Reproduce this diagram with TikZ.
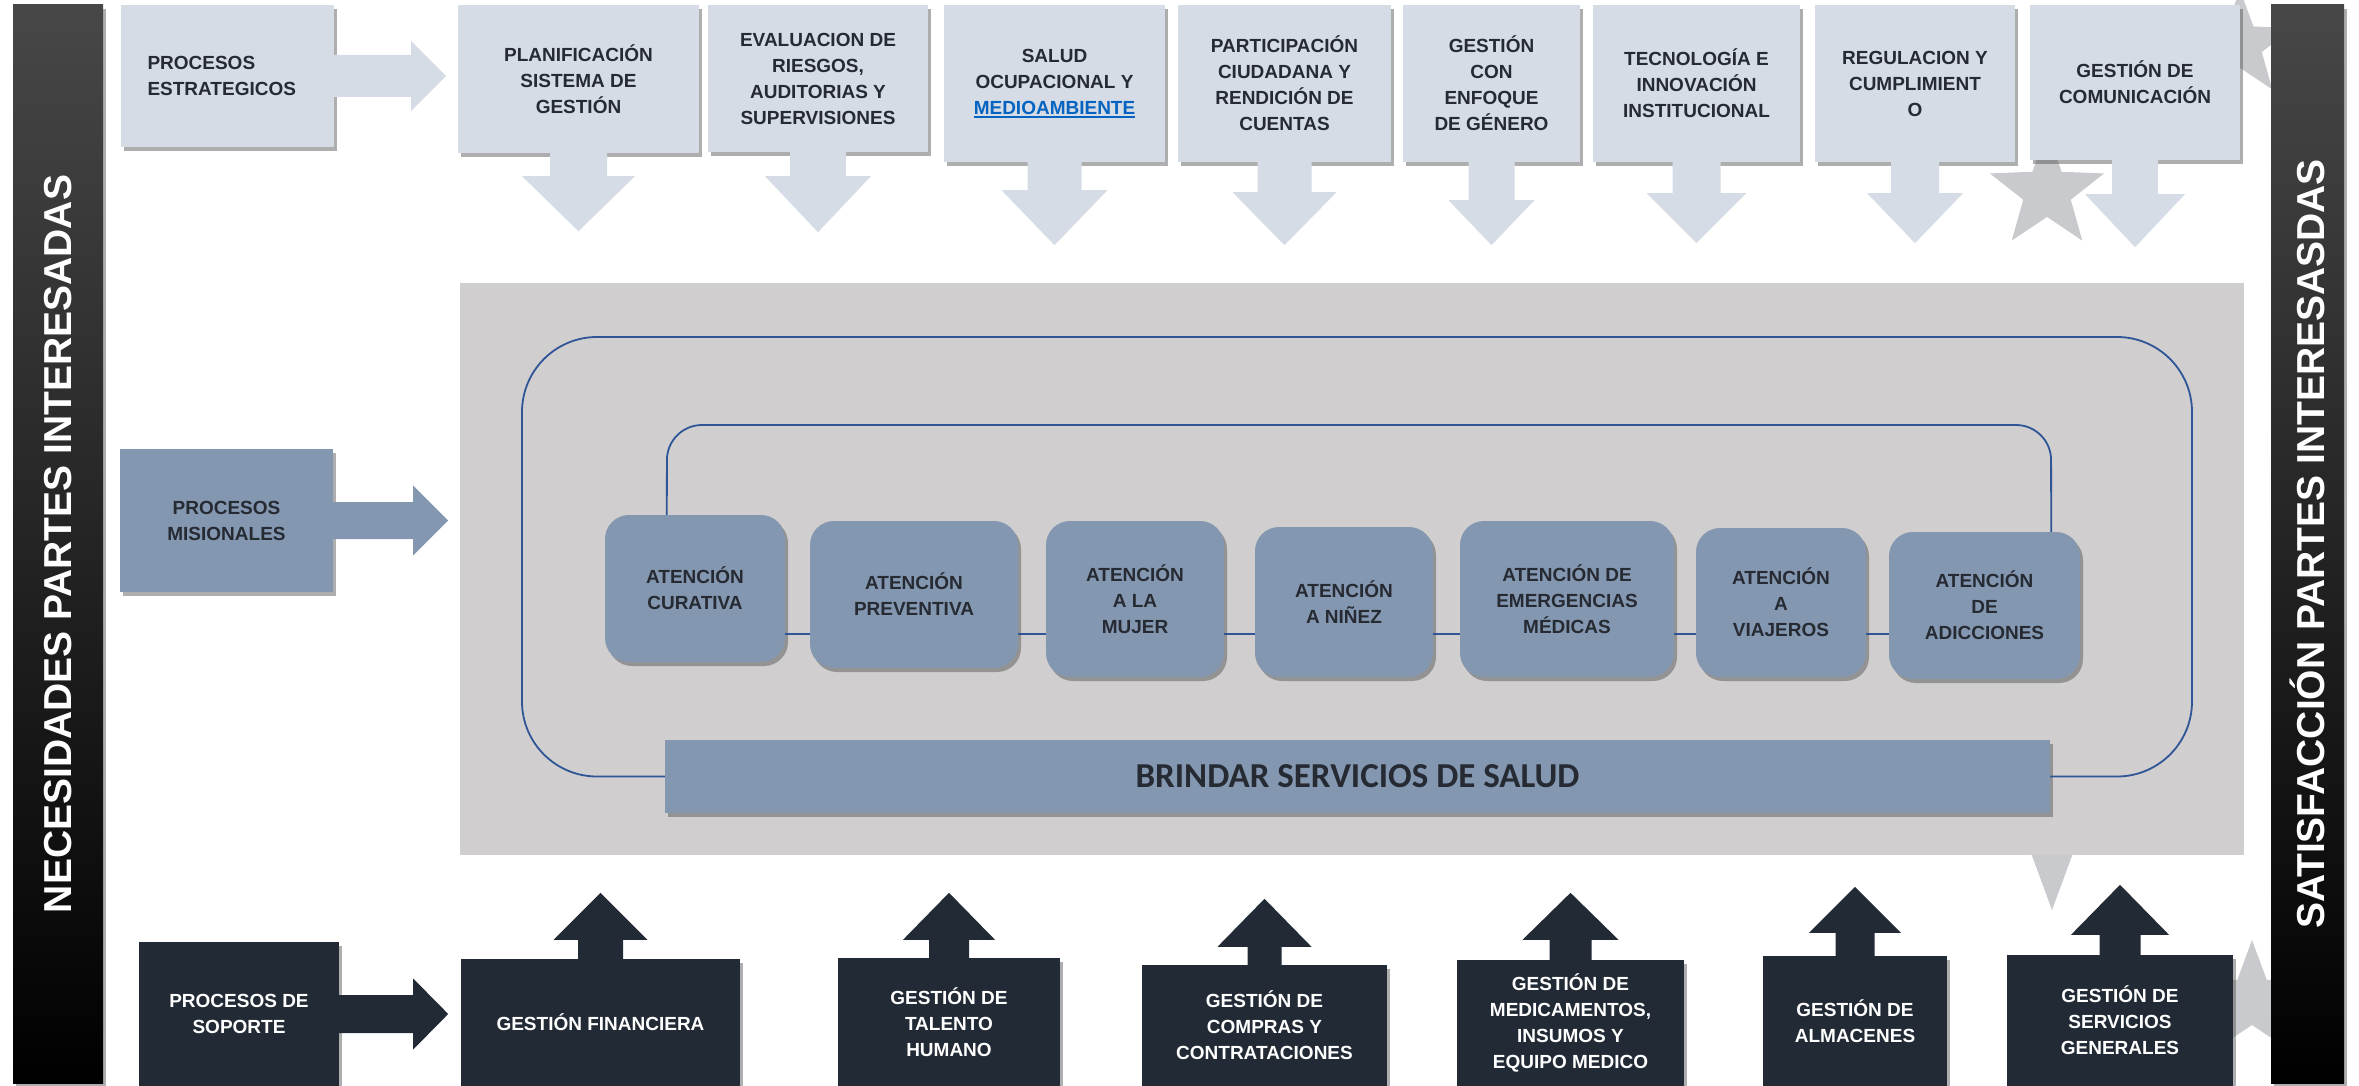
\documentclass[tikz,border=0pt]{standalone}
\usepackage{fontspec}
\setmainfont{Liberation Sans}
\newfontfamily\brfont{Carlito}
\usetikzlibrary{positioning,shapes.geometric,shadows,calc}

\definecolor{lightbox}{HTML}{D6DCE5}
\definecolor{misblue}{HTML}{8497B0}
\definecolor{darkbox}{HTML}{222A35}
\definecolor{grayarea}{HTML}{D0CECE}
\definecolor{loopblue}{HTML}{2F5597}
\definecolor{txtdark}{HTML}{262A33}
\definecolor{linkblue}{HTML}{0563C1}
\definecolor{stargray}{HTML}{C9CACE}

% underlined link text
\newcommand{\linkul}[1]{\setbox0\hbox{#1}\rlap{\rule[-3.5pt]{\wd0}{1.6pt}}\box0}

% block arrow: style, start, angle, shaft half, head half, shaft length, total length
\newcommand{\blockarrow}[7]{%
  \begin{scope}[shift={(#2)},rotate=#3]
    \fill[#1] (0,-#4) -- (#6,-#4) -- (#6,-#5) -- (#7,0) -- (#6,#5) -- (#6,#4) -- (0,#4) -- cycle;
  \end{scope}}

\tikzset{
  boxshadow/.style={drop shadow={shadow xshift=3pt,shadow yshift=-4pt,opacity=0.45,fill=black!70}},
  boxtext/.style={font=\bfseries\fontsize{19}{26}\selectfont,align=center,inner sep=0pt},
  strat/.style={boxtext,fill=lightbox,text=txtdark,boxshadow},
  misn/.style={boxtext,fill=misblue,text=txtdark,boxshadow},
  aten/.style={misn,rounded corners=24pt},
  supp/.style={boxtext,fill=darkbox,text=white,boxshadow},
  strarrow/.style={fill=lightbox},
  misarrow/.style={fill=misblue},
  suparrow/.style={fill=darkbox},
  sidebar/.style={top color=black!72,middle color=black,bottom color=black,inner sep=0pt,boxshadow},
  sidetext/.style={rotate=90,text=white,font=\bfseries\fontsize{39}{39}\selectfont},
  loopline/.style={draw=loopblue,line width=1.8pt},
  deco/.style={star,star points=5,star point ratio=2.4,fill=stargray,inner sep=0pt}
}

\begin{document}
\begin{tikzpicture}[x=1pt,y=-1pt]
\useasboundingbox (0,0) rectangle (2359,1086);

% background stars
\node[deco,minimum size=120pt] (st1) at (2047,192) {};
\node[deco,minimum size=110pt] (st2) at (2240,45) {};
\node[deco,minimum size=220pt,shape border rotate=180] (st3) at (2052,800) {};
\node[deco,minimum size=120pt] (st4) at (2252,1000) {};

% side bars
\node[sidebar,minimum width=90pt,minimum height=1078pt] (nec) at (58,544) {};
\node[sidetext] at (nec) {NECESIDADES PARTES INTERESADAS};
\node[sidebar,minimum width=73pt,minimum height=1078pt] (sat) at (2307.5,544) {};
\node[sidetext] at (sat) {SATISFACCIÓN PARTES INTERESASDAS};

% estrategicos
\node[strat,minimum width=213pt,minimum height=142pt,text width=160pt,align=left] (estr) at (227.5,76) {PROCESOS\\ESTRATEGICOS};
\node[strat,minimum width=241pt,minimum height=148pt] (plan) at (578.5,79) {PLANIFICACIÓN\\SISTEMA DE\\GESTIÓN};
\node[strat,minimum width=220pt,minimum height=147pt] (eval) at (818,78.5) {EVALUACION DE\\RIESGOS,\\AUDITORIAS Y\\SUPERVISIONES};
\node[strat,minimum width=221pt,minimum height=157pt] (salud) at (1054.5,83.5) {SALUD\\OCUPACIONAL Y\\\textcolor{linkblue}{\linkul{MEDIOAMBIENTE}}};
\node[strat,minimum width=213pt,minimum height=157pt] (part) at (1284.5,83.5) {PARTICIPACIÓN\\CIUDADANA Y\\RENDICIÓN DE\\CUENTAS};
\node[strat,minimum width=177pt,minimum height=157pt] (gen) at (1491.5,83.5) {GESTIÓN\\CON\\ENFOQUE\\DE GÉNERO};
\node[strat,minimum width=207pt,minimum height=157pt] (tec) at (1696.5,83.5) {TECNOLOGÍA E\\INNOVACIÓN\\INSTITUCIONAL};
\node[strat,minimum width=200pt,minimum height=157pt] (reg) at (1915,83.5) {REGULACION Y\\CUMPLIMIENT\\O};
\node[strat,minimum width=210pt,minimum height=155pt] (com) at (2135,82.5) {GESTIÓN DE\\COMUNICACIÓN};

\blockarrow{strarrow}{estr.east}{0}{21}{35}{77}{112}
\foreach \n/\s/\h/\l/\t in {plan/28.5/56.5/23/78, eval/28/53/24/80, salud/27/53/28/83,
    part/27/52/30/83, gen/23/43/38/83, tec/24/50/31/81, reg/24/48/31/81, com/23/50/34/87}
  \blockarrow{strarrow}{\n.south}{-90}{\s}{\h}{\l}{\t};

% misionales
\node[fill=grayarea,minimum width=1784pt,minimum height=572pt,inner sep=0pt] (area) at (1352,569) {};
\node[misn,minimum width=213pt,minimum height=143pt] (mis) at (226.5,520.5) {PROCESOS\\MISIONALES};
\blockarrow{misarrow}{mis.east}{0}{18.5}{35}{80}{115}

\node[misn,minimum width=1385pt,minimum height=73pt,font=\brfont\bfseries\fontsize{35}{35}\selectfont] (brin) at (1357.5,776.5) {BRINDAR SERVICIOS DE SALUD};
\draw[loopline,rounded corners=75pt] (brin.west) -- (522,776.5) -- (522,337) -- (2192,337) -- (2192,776.5) -- (brin.east);

\coordinate (lineY) at (0,634);
\node[aten,minimum width=180pt,minimum height=147pt] (cur) at (695,588.5) {ATENCIÓN\\CURATIVA};
\node[aten,minimum width=208pt,minimum height=147pt] (prev) at (914,594.5) {ATENCIÓN\\PREVENTIVA};
\node[aten,minimum width=178pt,minimum height=156pt] (muj) at (1135,599) {ATENCIÓN\\A LA\\MUJER};
\node[aten,minimum width=178pt,minimum height=150pt] (nin) at (1344,602) {ATENCIÓN\\A NIÑEZ};
\node[aten,minimum width=214pt,minimum height=156pt] (eme) at (1567,599) {ATENCIÓN DE\\EMERGENCIAS\\MÉDICAS};
\node[aten,minimum width=170pt,minimum height=149pt] (via) at (1781,602.5) {ATENCIÓN\\A\\VIAJEROS};
\node[aten,minimum width=191pt,minimum height=147pt] (adi) at (1984.5,605.5) {ATENCIÓN\\DE\\ADICCIONES};
\foreach \a/\b in {cur/prev, prev/muj, muj/nin, nin/eme, eme/via, via/adi}
  \draw[loopline] (\a.east |- lineY) -- (\b.west |- lineY);
\draw[loopline,rounded corners=35pt] ($(cur.north west)+(62,0)$) -- (667,425) -- (2051,425) -- ($(adi.north east)+(-29,0)$);

% soporte
\node[supp,minimum width=200pt,minimum height=144pt] (sop) at (239,1014) {PROCESOS DE\\SOPORTE};
\blockarrow{suparrow}{sop.east}{0}{19}{35.5}{74}{109}
\node[supp,minimum width=279pt,minimum height=127pt] (fin) at (600.5,1022.5) {GESTIÓN FINANCIERA};
\node[supp,minimum width=222pt,minimum height=128pt] (tal) at (949,1022) {GESTIÓN DE\\TALENTO\\HUMANO};
\node[supp,minimum width=245pt,minimum height=121pt] (comp) at (1264.5,1025.5) {GESTIÓN DE\\COMPRAS Y\\CONTRATACIONES};
\node[supp,minimum width=227pt,minimum height=126pt] (med) at (1570.5,1023) {GESTIÓN DE\\MEDICAMENTOS,\\INSUMOS Y\\EQUIPO MEDICO};
\node[supp,minimum width=184pt,minimum height=130pt] (alm) at (1855,1021) {GESTIÓN DE\\ALMACENES};
\node[supp,minimum width=226pt,minimum height=131pt] (serv) at (2120,1020.5) {GESTIÓN DE\\SERVICIOS\\GENERALES};
\foreach \n/\s/\h/\l/\t in {fin/22.5/47/19/66, tal/20/46/18/65, comp/17/47/18/66,
    med/21/48/20/67, alm/19.5/46/23/69, serv/20.5/49/20/70}
  \blockarrow{suparrow}{\n.north}{90}{\s}{\h}{\l}{\t};

\end{tikzpicture}
\end{document}
